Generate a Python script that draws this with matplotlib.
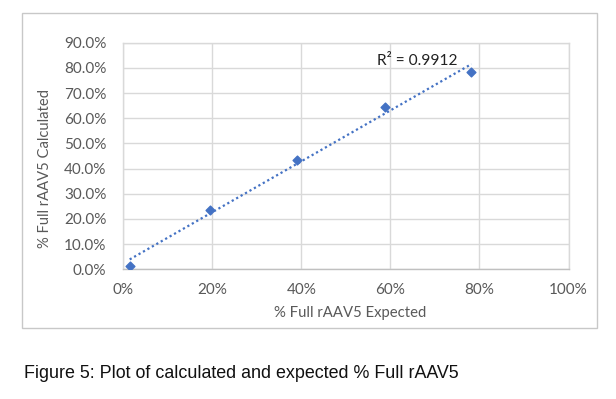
import numpy as np
import matplotlib
matplotlib.use('Agg')
import matplotlib.pyplot as plt
from matplotlib.patches import Rectangle
from matplotlib.ticker import FuncFormatter

# % Full rAAV5 expected vs calculated
expected = [1.5, 19.5, 39.1, 58.8, 78.2]
calculated = [1.3, 23.7, 43.4, 64.6, 78.4]
r2_label = 'R\u00b2 = 0.9912'
x_label = '% Full rAAV5 Expected'
y_label = '% Full rAAV5 Calculated'
caption = 'Figure 5: Plot of calculated and expected % Full rAAV5'

W, H = 616, 399
fig = plt.figure(figsize=(W / 100, H / 100), dpi=100)
plt.rcParams['font.family'] = ['Lato', 'DejaVu Sans']

# chart border
fig.patches.append(Rectangle((22 / W, 1 - 328 / H), (597 - 22) / W, (328 - 13) / H,
                             transform=fig.transFigure, fill=False,
                             edgecolor='#c8c8c8', linewidth=1.0))

ax = fig.add_axes([123 / W, 1 - 269.3 / H, (568.6 - 123) / W, (269.3 - 42.7) / H])

blue = '#4472C4'
ax.scatter(expected, calculated, marker='D', s=20, color=blue, zorder=3)

# linear trendline
slope, intercept = np.polyfit(expected, calculated, 1)
xs = np.array([min(expected), max(expected)])
ax.plot(xs, slope * xs + intercept, linestyle=(0, (1, 1.3)), color=blue, linewidth=1.6, zorder=2)

ax.text(66, 82.8, r2_label, ha='center', va='center', fontsize=11.2, color='#222222')

ax.set_xlim(0, 100)
ax.set_ylim(0, 90)
ax.set_xticks(range(0, 101, 20))
ax.set_yticks(range(0, 91, 10))
ax.xaxis.set_major_formatter(FuncFormatter(lambda v, p: f'{v:.0f}%'))
ax.yaxis.set_major_formatter(FuncFormatter(lambda v, p: f'{v:.1f}%'))
ax.tick_params(length=0, labelsize=11, labelcolor='#595959')
ax.tick_params(axis='y', pad=12)
ax.tick_params(axis='x', pad=10)
ax.grid(True, color='#d9d9d9', linewidth=1.0)
ax.set_axisbelow(True)
for s in ax.spines.values():
    s.set_color('#d9d9d9')
    s.set_linewidth(1.0)
ax.spines['bottom'].set_color('#c0c0c0')

fig.text(350 / W, 1 - 313 / H, x_label, ha='center', va='center', fontsize=10.7, color='#595959')
fig.text(45 / W, 1 - 169 / H, y_label, ha='center', va='center', rotation=90,
         fontsize=10.6, color='#595959')

fig.text(24 / W, 1 - 378 / H, caption, ha='left', va='baseline', fontsize=12.9,
         family=['Liberation Sans', 'DejaVu Sans'], color='#111111')

fig.savefig('out.png', dpi=100)
